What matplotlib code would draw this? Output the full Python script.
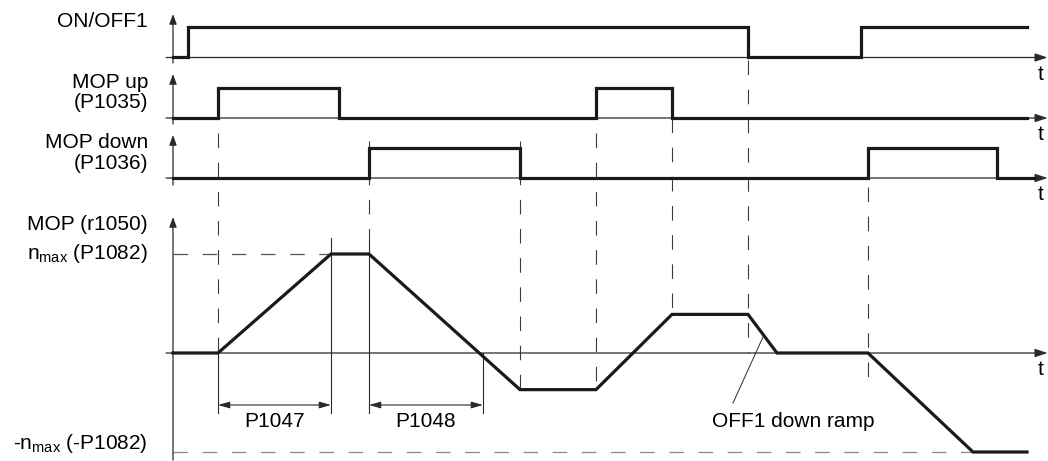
import matplotlib
matplotlib.use("Agg")
import matplotlib.pyplot as plt

plt.rcParams['font.family'] = ['Liberation Sans', 'DejaVu Sans']
plt.rcParams['mathtext.fontset'] = 'custom'
plt.rcParams['mathtext.rm'] = 'Liberation Sans'
plt.rcParams['mathtext.it'] = 'Liberation Sans'
plt.rcParams['mathtext.default'] = 'regular'
plt.rcParams['lines.scale_dashes'] = False

# ---------------- data (time in arbitrary units) ----------------
on_off1_t = [0, 1.5, 57.5, 68.8, 85.4]
on_off1_v = [0, 1, 0, 1, 1]

mop_up_t = [0, 4.5, 16.6, 42.3, 49.9, 85.4]
mop_up_v = [0, 1, 0, 1, 0, 0]

mop_down_t = [0, 19.6, 34.7, 69.5, 82.4, 86.1]
mop_down_v = [0, 1, 0, 1, 0, 0]

mop_t = [0, 4.5, 15.8, 19.6, 34.7, 42.3, 49.9, 57.5, 60.4, 69.5, 80.0, 85.4]
mop_v = [0, 0, 1, 1, -0.37, -0.37, 0.39, 0.39, 0, 0, -1, -1]

zero_cross_t = 31.0        # end of P1048 dimension
nmax_reach_t = 15.8        # end of P1047 dimension

panel_labels = [["ON/OFF1"], ["MOP up", "(P1035)"], ["MOP down", "(P1036)"]]
mop_labels = ["MOP (r1050)", "n$_{max}$ (P1082)", "-n$_{max}$ (-P1082)"]

# ---------------- layout ----------------
W, H = 1048, 461
fig = plt.figure(figsize=(W / 100, H / 100), dpi=100)
X0PX, XSC = 173, 10.0
XLIM = (-X0PX / XSC, (W - X0PX) / XSC)

FS = 15
thick = 2.3
thin = 0.9
axcol = '#2a2a2a'
sigcol = '#1a1a1a'
dash = (0, (10.5, 10.5))


def make_axes(base_px, unit_px):
    ax = fig.add_axes([0, 0, 1, 1])
    ax.set_xlim(*XLIM)
    ax.set_ylim(-(H - base_px) / unit_px, base_px / unit_px)
    ax.axis('off')
    ax.patch.set_alpha(0)
    return ax


def to_level(ypx, base_px, unit_px):
    return (base_px - ypx) / unit_px


def axes_arrows(ax, base, unit, ybot_px, ytop_px):
    ax.annotate('', xy=(XLIM[1] - 0.05, 0), xytext=(-0.7, 0),
                arrowprops=dict(arrowstyle='-|>,head_length=0.75,head_width=0.25',
                                lw=thin, color=axcol, shrinkA=0, shrinkB=0))
    ax.annotate('', xy=(0, to_level(ytop_px, base, unit)),
                xytext=(0, to_level(ybot_px, base, unit)),
                arrowprops=dict(arrowstyle='-|>,head_length=0.6,head_width=0.22',
                                lw=thin, color=axcol, shrinkA=0, shrinkB=0))


overlay = fig.add_axes([0, 0, 1, 1])
overlay.set_xlim(*XLIM)
overlay.set_ylim(H, 0)
overlay.axis('off')
overlay.patch.set_alpha(0)

# ---- panel 1: ON/OFF1 ----
b1, u1 = 57.5, 30.5
ax1 = make_axes(b1, u1)
axes_arrows(ax1, b1, u1, 63, 14)
ax1.plot(on_off1_t, on_off1_v, drawstyle='steps-post', lw=thick, color=sigcol,
         solid_joinstyle='miter', zorder=5)
ax1.text(-2.5, to_level(22, b1, u1), panel_labels[0][0], ha='right', va='center', fontsize=FS)
ax1.text(86.8, to_level(75, b1, u1), 't', ha='center', va='center', fontsize=FS)

# ---- panel 2: MOP up ----
b2, u2 = 118, 30
ax2 = make_axes(b2, u2)
axes_arrows(ax2, b2, u2, 124, 74)
ax2.plot(mop_up_t, mop_up_v, drawstyle='steps-post', lw=thick, color=sigcol,
         solid_joinstyle='miter', zorder=5)
ax2.text(-2.5, to_level(82, b2, u2), panel_labels[1][0], ha='right', va='center', fontsize=FS)
ax2.text(-2.5, to_level(103, b2, u2), panel_labels[1][1], ha='right', va='center', fontsize=FS)
ax2.text(86.8, to_level(134, b2, u2), 't', ha='center', va='center', fontsize=FS)

# ---- panel 3: MOP down ----
b3, u3 = 178, 30
ax3 = make_axes(b3, u3)
axes_arrows(ax3, b3, u3, 185, 135)
ax3.plot(mop_down_t, mop_down_v, drawstyle='steps-post', lw=thick, color=sigcol,
         solid_joinstyle='miter', zorder=5)
ax3.text(-2.5, to_level(142, b3, u3), panel_labels[2][0], ha='right', va='center', fontsize=FS)
ax3.text(-2.5, to_level(163, b3, u3), panel_labels[2][1], ha='right', va='center', fontsize=FS)
ax3.text(86.8, to_level(194, b3, u3), 't', ha='center', va='center', fontsize=FS)

# ---- panel 4: MOP (r1050) ----
b4, u4 = 353, 99
ax4 = make_axes(b4, u4)
axes_arrows(ax4, b4, u4, 460, 217)
ax4.plot([0, nmax_reach_t], [1, 1], color='#555555', lw=0.9, linestyle=dash)
ax4.plot([0, mop_t[10]], [-1, -1], color='#888888', lw=0.9, linestyle=dash)
ax4.plot(mop_t, mop_v, lw=thick, color=sigcol, solid_joinstyle='miter', zorder=5)
ax4.text(-2.5, to_level(224, b4, u4), mop_labels[0], ha='right', va='center', fontsize=FS)
ax4.text(-2.5, to_level(253, b4, u4), mop_labels[1], ha='right', va='center', fontsize=FS)
ax4.text(-2.5, to_level(443, b4, u4), mop_labels[2], ha='right', va='center', fontsize=FS)
ax4.text(86.8, to_level(369, b4, u4), 't', ha='center', va='center', fontsize=FS)

# dimension lines
dim_y = to_level(405, b4, u4)
dim_bot = to_level(413, b4, u4)
for x, ytop in [(mop_t[1], 0), (nmax_reach_t, to_level(238, b4, u4)),
                (mop_t[3], to_level(240, b4, u4)), (zero_cross_t, 0)]:
    ax4.plot([x, x], [ytop, dim_bot], color=axcol, lw=0.8)
for (xa, xb), lab in [((mop_t[1], nmax_reach_t), 'P1047'), ((mop_t[3], zero_cross_t), 'P1048')]:
    ax4.annotate('', xy=(xb, dim_y), xytext=(xa, dim_y),
                 arrowprops=dict(arrowstyle='<|-|>,head_length=0.7,head_width=0.2',
                                 lw=0.8, color=axcol, shrinkA=0, shrinkB=0))
    ax4.text((xa + xb) / 2, to_level(421, b4, u4), lab, ha='center', va='center', fontsize=FS)

# OFF1 down ramp annotation
ax4.plot([56.0, 59.0], [to_level(403, b4, u4), to_level(337, b4, u4)], color=axcol, lw=0.7)
ax4.text(62.0, to_level(421, b4, u4), 'OFF1 down ramp', ha='center', va='center', fontsize=FS)

# ---- dashed connecting verticals (overlay, pixel layout in y) ----
dashed_v = [(mop_up_t[1], 133, 353), (mop_down_t[1], 141, 240), (mop_down_t[2], 141, 390),
            (mop_up_t[3], 133, 390), (mop_up_t[4], 118, 314), (on_off1_t[2], 60, 353),
            (mop_down_t[3], 187, 383)]
for x, y0, y1 in dashed_v:
    overlay.plot([x, x], [y0, y1], color='#3a3a3a', lw=0.8, linestyle=dash)

fig.savefig('out.png', dpi=100)
